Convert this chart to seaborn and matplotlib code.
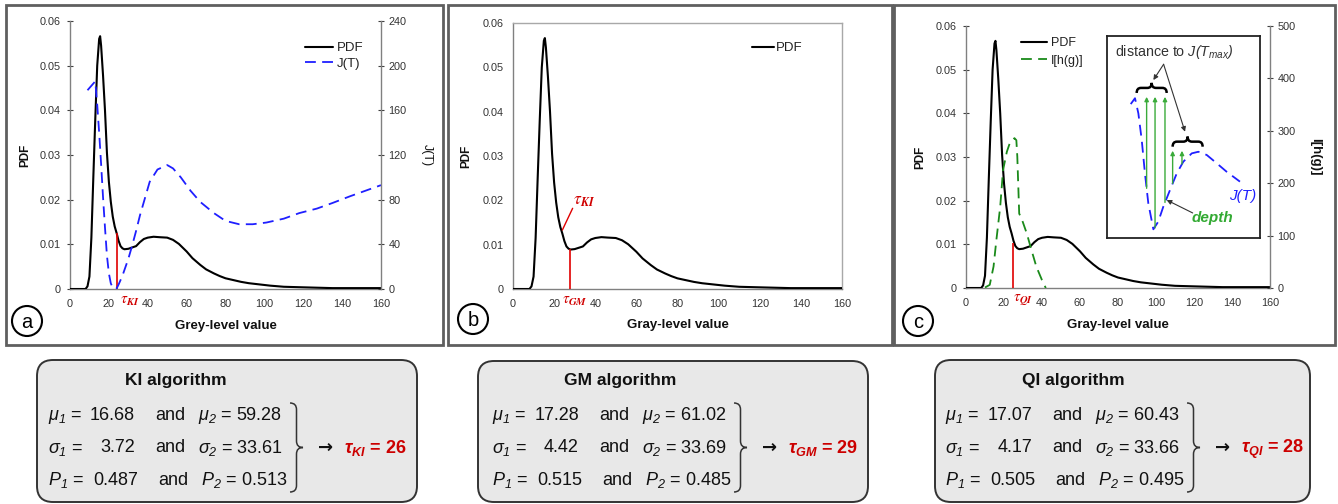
import numpy as np
import matplotlib
matplotlib.use('Agg')
import matplotlib.pyplot as plt
import seaborn as sns
from matplotlib.patches import FancyBboxPatch, Rectangle, Circle, PathPatch
from matplotlib.path import Path
from matplotlib.ticker import MultipleLocator, FuncFormatter

# ---------------- data ----------------
grey_levels = [0, 8, 9, 10, 11, 12, 13, 14, 15, 15.5, 16, 17, 18, 19, 20, 21, 22, 23, 24, 25,
               26, 27, 28, 30, 32, 34, 36, 38, 40, 43, 46, 50, 53, 56, 60, 63, 67, 70, 74, 77,
               80, 84, 88, 92, 98, 103, 110, 118, 135, 160]
pdf_values = [0, 0, 0.0006, 0.0028, 0.0115, 0.025, 0.038, 0.050, 0.0560, 0.0566, 0.0545, 0.0478,
              0.040, 0.0305, 0.024, 0.0195, 0.0162, 0.014, 0.0125, 0.0108, 0.0096, 0.0091, 0.0089,
              0.0090, 0.0093, 0.0096, 0.0105, 0.0112, 0.0115, 0.0117, 0.0116, 0.0115, 0.011, 0.0101,
              0.0084, 0.0069, 0.0054, 0.0044, 0.0035, 0.0029, 0.0024, 0.002, 0.0016, 0.0013, 0.001,
              0.00075, 0.0005, 0.0004, 0.0002, 0.0002]

jt_levels = [9, 11, 13, 14, 15, 16, 17, 18, 19, 20, 21, 22, 23, 24, 25, 26, 27, 28, 30, 32,
             34, 36, 38, 41, 45, 50, 53, 57, 62, 67, 74, 80, 87, 94, 101, 110, 118, 127, 135, 144,
             152, 160]
jt_values = [178, 182, 186, 165, 140, 112, 82, 55, 30, 14, 5, 1, 0, 0.5, 4, 8, 12, 17, 27, 39,
             52, 66, 78, 96, 107, 111, 108, 100, 88, 78, 68, 61, 58, 58, 59.5, 63, 68, 72, 77, 83,
             88, 93]

ih_levels = [10, 12.5, 14.5, 16, 18, 19.5, 21.5, 23, 25.5, 26.5, 27, 28, 29.5, 32, 34.5, 37, 40, 42]
ih_values = [1, 6, 41, 92, 155, 225, 260, 276, 286, 282, 251, 142, 130, 104, 72, 41, 15, 0]

panel_letters = ['a', 'b', 'c']
x_labels = ['Grey-level value', 'Gray-level value', 'Gray-level value']
tau_line_x = [24.4, 27.6, 24.9]
tau_line_top = [0.0125, 0.0091, 0.0102]
tau_names = ['KI', 'GM', 'QI']

algorithms = ['KI', 'GM', 'QI']
mu1 = [16.68, 17.28, 17.07]
mu2 = [59.28, 61.02, 60.43]
sigma1 = [3.72, 4.42, 4.17]
sigma2 = [33.61, 33.69, 33.66]
p1 = [0.487, 0.515, 0.505]
p2 = [0.513, 0.485, 0.495]
tau_values = [26, 29, 28]

# schematic inset (its own 0-100 units)
inset_T = [15.5, 18.3, 20.5, 22.7, 24.8, 27.0, 30.3, 33.5, 36.8, 41.2, 45.6, 49.9, 55.4, 59.7,
           65.2, 71.7, 78.2, 86.9]
inset_J = [66.3, 69.2, 61.7, 48.5, 32.0, 17.2, 4.3, 8.1, 15.5, 23.8, 32.0, 37.8, 41.9, 42.7,
           41.1, 37.0, 32.8, 27.9]
depth_T = [25.9, 31.4, 37.9, 42.9, 49.0]
depth_bottom = [24.6, 5.0, 17.6, 27.0, 36.6]
depth_top = [69.9, 69.9, 69.9, 43.2, 43.2]

# ---------------- style ----------------
sns.set_style('white')
plt.rcParams['font.family'] = ['Liberation Sans', 'DejaVu Sans']
plt.rcParams['mathtext.fontset'] = 'custom'
plt.rcParams['mathtext.rm'] = 'Liberation Sans:italic'
plt.rcParams['mathtext.it'] = 'Liberation Sans:italic'
plt.rcParams['mathtext.bf'] = 'Liberation Sans:bold'
plt.rcParams['mathtext.bfit'] = 'Liberation Sans:italic:bold'

RED = '#e00000'
TXT = '#333333'
SPINE = '#808080'
BLUE = '#1f1fff'
GREEN = '#1a8a1a'

W, H = 1338, 504
fig = plt.figure(figsize=(W / 100, H / 100), dpi=100)

ov = fig.add_axes([0, 0, 1, 1])
ov.set_xlim(0, W)
ov.set_ylim(H, 0)
ov.axis('off')


def px_axes(l, t, r, b, **kw):
    return fig.add_axes([l / W, 1 - b / H, (r - l) / W, (b - t) / H], **kw)


BR_CODES = [Path.MOVETO, Path.CURVE3, Path.CURVE3, Path.LINETO, Path.CURVE3, Path.CURVE3,
            Path.CURVE3, Path.CURVE3, Path.LINETO, Path.CURVE3, Path.CURVE3]


def vbrace(ax, x, y0, y1, w, **kw):
    ym = (y0 + y1) / 2
    r = w / 2
    verts = [(x, y0), (x + r, y0), (x + r, y0 + r), (x + r, ym - r), (x + r, ym), (x + w, ym),
             (x + r, ym), (x + r, ym + r), (x + r, y1 - r), (x + r, y1), (x, y1)]
    ax.add_patch(PathPatch(Path(verts, BR_CODES), fill=False, **kw))


def hbrace(ax, x0, x1, y, h, rx, **kw):
    xm = (x0 + x1) / 2
    hm = y + h / 2
    verts = [(x0, y), (x0, hm), (x0 + rx, hm), (xm - rx, hm), (xm, hm), (xm, y + h),
             (xm, hm), (xm + rx, hm), (x1 - rx, hm), (x1, hm), (x1, y)]
    ax.add_patch(PathPatch(Path(verts, BR_CODES), fill=False, **kw))


# panel frames and letters
for (x0, x1) in [(6, 443), (448, 891.5), (894, 1335)]:
    ov.add_patch(Rectangle((x0, 5), x1 - x0, 340, fill=False, ec='#5f5f5f', lw=2))
for letter, (cx, cy) in zip(panel_letters, [(27, 321), (473, 319), (918, 321)]):
    ov.add_patch(Circle((cx, cy), 15, fc='white', ec='black', lw=1.5))
    ov.text(cx, cy + 1, letter, ha='center', va='center', fontsize=14.5, color='black')

# ---------------- plot panels ----------------
axes_px = [(70, 21, 381, 289), (513, 23, 842, 289), (966, 26, 1270, 288)]
ylab_x = [-0.145, -0.141, -0.149]
xlab_y = [-0.138, -0.135, -0.141]
legend_px = [(305, 42), (752, 42), (1021, 37)]
tau_lab_x = [25.5, 23.8, 24.7]
fmt = FuncFormatter(lambda v, p: '0' if abs(v) < 1e-12 else f'{v:.2f}')

for i in range(3):
    ax = px_axes(*axes_px[i])
    sns.lineplot(x=grey_levels, y=pdf_values, ax=ax, color='black', linewidth=1.5,
                 legend=False, zorder=3)
    handles = list(ax.get_lines())
    labels = ['PDF']
    ax.set_xlim(0, 160)
    ax.set_ylim(0, 0.06)
    ax.xaxis.set_major_locator(MultipleLocator(20))
    ax.xaxis.set_minor_locator(MultipleLocator(10))
    ax.yaxis.set_major_locator(MultipleLocator(0.01))
    ax.yaxis.set_major_formatter(fmt)
    ax.tick_params(axis='both', which='both', direction='inout', length=5, width=0.8,
                   color='#404040', labelcolor=TXT, labelsize=7.8, pad=4.5)
    for s in ['left', 'bottom']:
        ax.spines[s].set_color(SPINE)
        ax.spines[s].set_linewidth(1)
    if i == 1:
        for s in ['top', 'right']:
            ax.spines[s].set_color('#a8a8a8')
            ax.spines[s].set_linewidth(1)
    else:
        ax.spines['top'].set_visible(False)
        ax.spines['right'].set_visible(False)

    ax.set_xlabel(x_labels[i], fontsize=9.5, fontweight='bold', color='#111111')
    ax.xaxis.set_label_coords(0.5, xlab_y[i])
    ax.xaxis.label.set_va('center')
    ax.set_ylabel('PDF', fontsize=8.5, fontweight='bold', color='#111111')
    ax.yaxis.set_label_coords(ylab_x[i], 0.5)
    ax.yaxis.label.set_va('center')

    ax.vlines(tau_line_x[i], 0, tau_line_top[i], color=RED, lw=1.2, zorder=4)
    ax.text(tau_lab_x[i], -0.045, r'$\tau_{\mathbfit{' + tau_names[i] + '}}$',
            transform=ax.get_xaxis_transform(), ha='left', va='center', color='#d00000',
            fontsize=11, math_fontfamily='stix')

    top_ax = ax
    if i == 0 or i == 2:
        ax2 = ax.twinx()
        if i == 0:
            sns.lineplot(x=jt_levels, y=jt_values, ax=ax2, color=BLUE, linewidth=1.3,
                         linestyle=(0, (6, 3.5)), legend=False)
            ax2.set_ylim(0, 240)
            ax2.yaxis.set_major_locator(MultipleLocator(40))
            labels.append('J(T)')
            ax2.set_ylabel('J(T)', fontsize=9, color='#111111', rotation=270)
            ax2.yaxis.set_label_coords(1.147, 0.5)
        else:
            sns.lineplot(x=ih_levels, y=ih_values, ax=ax2, color=GREEN, linewidth=1.3,
                         linestyle=(0, (6, 3.5)), legend=False)
            ax2.set_ylim(0, 500)
            ax2.yaxis.set_major_locator(MultipleLocator(100))
            labels.append('I[h(g)]')
            ax2.set_ylabel('I[h(g)]', fontsize=9.5, fontweight='bold', color='#111111',
                           rotation=270)
            ax2.yaxis.set_label_coords(1.148, 0.5)
        ax2.yaxis.label.set_va('center')
        ax2.set_xlim(0, 160)
        handles += list(ax2.get_lines())
        ax2.tick_params(axis='y', direction='inout', length=5, width=0.8, color='#404040',
                        labelcolor=TXT, labelsize=7.8, pad=3)
        for s in ['top', 'left', 'bottom']:
            ax2.spines[s].set_visible(False)
        ax2.spines['right'].set_color(SPINE)
        ax2.spines['right'].set_linewidth(1)
        top_ax = ax2

    lx, ly = legend_px[i]
    leg = top_ax.legend(handles, labels, loc='upper left',
                        bbox_to_anchor=(lx / W, 1 - ly / H), bbox_transform=fig.transFigure,
                        frameon=False, borderpad=0, borderaxespad=0,
                        handlelength=(1.65 if i == 1 else 2.1),
                        handletextpad=(0.15 if i == 1 else 0.3),
                        labelspacing=(0.45 if i == 2 else 0.25),
                        fontsize=(9 if i == 2 else 9.5))
    for t in leg.get_texts():
        t.set_color('#222222')

    if i == 1:
        ax.annotate('', xy=(24.0, 0.0133), xytext=(29.0, 0.0182),
                    arrowprops=dict(arrowstyle='-', color=RED, lw=1, shrinkA=0, shrinkB=0))
        ax.text(29.2, 0.0197, r'$\tau_{\mathbfit{KI}}$', ha='left', va='center',
                color='#d00000', fontsize=12.5, math_fontfamily='stix')

# ---------------- schematic inset in panel c ----------------
ins = px_axes(1107, 36, 1260, 238, zorder=5)
ins.set_xlim(0, 100)
ins.set_ylim(0, 100)
ins.set_xticks([])
ins.set_yticks([])
ins.set_facecolor('white')
for s in ins.spines.values():
    s.set_color('#222222')
    s.set_linewidth(1.3)
    s.set_visible(True)
sns.lineplot(x=inset_T, y=inset_J, ax=ins, color=BLUE, linewidth=1.3,
             linestyle=(0, (6, 3.5)), legend=False, sort=False)
for t, b, tp in zip(depth_T, depth_bottom, depth_top):
    ins.annotate('', xy=(t, tp), xytext=(t, b),
                 arrowprops=dict(arrowstyle='-|>', color='#3aab3a', lw=1,
                                 mutation_scale=6, shrinkA=0, shrinkB=0))
hbrace(ins, 19.4, 39.0, 71.8, 5.0, 2.8, ec='black', lw=1.8)
hbrace(ins, 42.9, 62.5, 45.2, 5.0, 2.8, ec='black', lw=1.8)
ins.text(5.0, 92.2, r'distance to $J(T_{max})$', ha='left', va='center', fontsize=10.3,
         color='#333333')
for end in [(30.3, 78.2), (51.0, 52.6)]:
    ins.annotate('', xy=end, xytext=(37.0, 86.0),
                 arrowprops=dict(arrowstyle='-|>', color='#333333', lw=0.8,
                                 mutation_scale=7, shrinkA=0, shrinkB=0))
ins.text(88.5, 21.0, 'J(T)', ha='center', va='center', fontsize=11, fontstyle='italic',
         color=BLUE)
ins.text(69.0, 10.0, 'depth', ha='center', va='center', fontsize=11, fontstyle='italic',
         fontweight='bold', color='#33aa33')
ins.annotate('', xy=(39.0, 18.8), xytext=(56.0, 12.4),
             arrowprops=dict(arrowstyle='-|>', color='#333333', lw=0.8,
                             mutation_scale=7, shrinkA=0, shrinkB=0))

# ---------------- algorithm boxes ----------------
box_px = [(37, 360, 417, 502), (478, 361, 868, 502), (935, 360, 1310, 502)]
col1_px = [48, 492, 945]
row_base = [420, 452.5, 485]
for k, alg in enumerate(algorithms):
    bx0, by0, bx1, by1 = box_px[k]
    ov.add_patch(FancyBboxPatch((bx0, by0), bx1 - bx0, by1 - by0,
                                boxstyle='round,pad=0,rounding_size=16',
                                fc='#e8e8e8', ec='#333333', lw=1.4))
    c1 = col1_px[k]
    ov.text(c1 + 128, 385, f'{alg} algorithm', ha='center', va='baseline', fontsize=12.5,
            fontweight='bold', color='#111111')
    rows = [(r'$\mu_1$ =', f'{mu1[k]:.2f}', r'$\mu_2$ = ' + f'{mu2[k]:.2f}'),
            (r'$\sigma_1$ =', f'{sigma1[k]:.2f}', r'$\sigma_2$ = ' + f'{sigma2[k]:.2f}'),
            (r'$P_1$ =', f'{p1[k]:.3f}', r'$P_2$ = ' + f'{p2[k]:.3f}')]
    for j, (lab, num, right) in enumerate(rows):
        y = row_base[j]
        dx = 3 if j == 2 else 0
        ov.text(c1, y, lab, ha='left', va='baseline', fontsize=13, color='#111111')
        ov.text(c1 + 87 + dx, y, num, ha='right', va='baseline', fontsize=13, color='#111111')
        ov.text(c1 + 107 + dx, y, 'and', ha='left', va='baseline', fontsize=13, color='#111111')
        ov.text(c1 + 150 + dx, y, right, ha='left', va='baseline', fontsize=13, color='#111111')
    vbrace(ov, c1 + 242, 403, 492, 13, ec='#333333', lw=1.1)
    ov.text(c1 + 270, 453, '→', ha='left', va='baseline', fontsize=13, fontweight='bold',
            color='#111111', family=['DejaVu Sans'])
    ov.text(c1 + 296, 453, r'$\mathbfit{\tau}_{\mathbfit{' + alg + '}}$ = ' + str(tau_values[k]),
            ha='left', va='baseline', fontsize=13, fontweight='bold', color='#cc0000')

fig.savefig('out.png', dpi=100)
